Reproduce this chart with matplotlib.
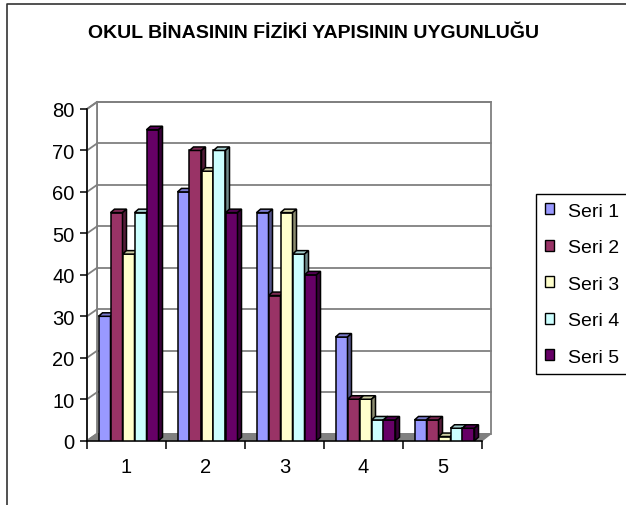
import numpy as np
import matplotlib
matplotlib.use("Agg")
import matplotlib.pyplot as plt
from matplotlib.patches import Polygon, Patch
from matplotlib.lines import Line2D
from matplotlib.colors import to_rgb

plt.rcParams['font.family'] = ['Liberation Sans', 'DejaVu Sans']

# veriler
kategoriler = ['1', '2', '3', '4', '5']
seriler = ['Seri 1', 'Seri 2', 'Seri 3', 'Seri 4', 'Seri 5']
seri1 = [30, 60, 55, 25, 5]
seri2 = [55, 70, 35, 10, 5]
seri3 = [45, 65, 55, 10, 1]
seri4 = [55, 70, 45, 5, 3]
seri5 = [75, 55, 40, 5, 3]
degerler = [seri1, seri2, seri3, seri4, seri5]
renkler = ['#9999FF', '#993366', '#FFFFCC', '#CCFFFF', '#660066']
y_ticks = list(range(0, 81, 10))
baslik = 'OKUL BİNASININ FİZİKİ YAPISININ UYGUNLUĞU'

W, H = 626, 506
fig = plt.figure(figsize=(W / 100, H / 100), dpi=100)

# on eksen (piksel)
x0, x1 = 87, 482
y0, y1 = 441.7, 110
ax = fig.add_axes([x0 / W, 1 - y0 / H, (x1 - x0) / W, (y0 - y1) / H])
ax.set_xlim(0.5, 5.5)
ax.set_ylim(0, 80)
ax.patch.set_visible(False)

px_x = (x1 - x0) / 5.0
px_y = (y0 - y1) / 80.0
def ux(p):
    return p / px_x
def uy(p):
    return p / px_y

# duvarlar ve zemin
wdx, wdy = ux(10), uy(7)
gri = '#808080'
ax.add_patch(Polygon([(0.5 + wdx, wdy), (0.5 + wdx, 80 + wdy), (5.5 + ux(9), 80 + wdy),
                      (5.5 + ux(9), wdy)], closed=True, facecolor='white', edgecolor=gri,
                     lw=1.3, zorder=0.5, clip_on=False))
ax.add_patch(Polygon([(0.5, 0), (0.5, 80), (0.5 + wdx, 80 + wdy), (0.5 + wdx, wdy)],
                     closed=True, facecolor='white', edgecolor=gri, lw=1.3, zorder=0.6,
                     clip_on=False))
for v in y_ticks[1:]:
    ax.plot([0.5 + wdx, 5.5 + ux(9)], [v + wdy, v + wdy], color=gri, lw=1.3, zorder=0.7,
            clip_on=False)
    ax.plot([0.5, 0.5 + wdx], [v, v + wdy], color=gri, lw=1.3, zorder=0.7, clip_on=False)
ax.add_patch(Polygon([(0.5, 0), (5.5, 0), (5.5 + ux(9), wdy), (0.5 + wdx, wdy)], closed=True,
                     facecolor=gri, edgecolor=gri, lw=1.0, zorder=0.8, clip_on=False))

# cubuklar
bw = ux(12)
bas = ux(11.5)
ddx, ddy = ux(4), uy(3.5)
for j, (vals, c) in enumerate(zip(degerler, renkler)):
    rgb = np.array(to_rgb(c))
    ust = rgb * 0.8
    yan = rgb * 0.55
    lefts = np.arange(1, 6) - 0.5 + bas + j * bw
    z = 3 + j
    ax.bar(lefts, vals, width=bw, align='edge', color=c, edgecolor='black', lw=1.1, zorder=z)
    for l, v in zip(lefts, vals):
        ax.add_patch(Polygon([(l, v), (l + ddx, v + ddy), (l + bw + ddx, v + ddy), (l + bw, v)],
                             closed=True, facecolor=ust, edgecolor='black', lw=1.1, zorder=z,
                             clip_on=False))
        ax.add_patch(Polygon([(l + bw, 0), (l + bw, v), (l + bw + ddx, v + ddy), (l + bw + ddx, ddy)],
                             closed=True, facecolor=yan, edgecolor='black', lw=1.1, zorder=z,
                             clip_on=False))

# eksenler
for s in ['top', 'right']:
    ax.spines[s].set_visible(False)
for s in ['left', 'bottom']:
    ax.spines[s].set_linewidth(1.1)
    ax.spines[s].set_color('black')
ax.set_yticks(y_ticks)
ax.tick_params(axis='y', direction='out', length=5, width=1.1, pad=4, labelsize=14.5)
ax.set_xticks(np.arange(0.5, 5.6, 1))
ax.set_xticklabels([])
ax.tick_params(axis='x', which='major', direction='out', length=6, width=1.1)
ax.set_xticks(np.arange(1, 6), minor=True)
ax.set_xticklabels(kategoriler, minor=True)
ax.tick_params(axis='x', which='minor', length=0, pad=12, labelsize=14.5)

fig.text(314 / W, 1 - 34 / H, baslik, ha='center', va='center', fontsize=14,
         fontweight='bold')

# lejant
handles = [Patch(facecolor=c, edgecolor='black', lw=1.0) for c in renkler]
leg = fig.legend(handles, seriler, loc='upper left', bbox_to_anchor=(536 / W, 1 - 195 / H),
                 frameon=True, fancybox=False, edgecolor='black', borderaxespad=0,
                 handlelength=0.5, handleheight=0.5, handletextpad=0.7, labelspacing=1.0,
                 borderpad=0.45, fontsize=14, framealpha=1)
leg.get_frame().set_linewidth(1.0)

# grafik alani cercevesi
fig.add_artist(Line2D([7 / W, 7 / W, 1.0], [0, 1 - 5 / H, 1 - 5 / H], transform=fig.transFigure,
                      color='#333333', lw=1.2))

fig.savefig('out.png', dpi=100)
